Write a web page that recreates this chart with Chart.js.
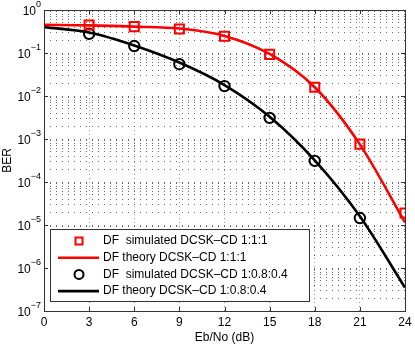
<!DOCTYPE html>
<html>
<head>
<meta charset="utf-8">
<script src="https://cdn.jsdelivr.net/npm/chart.js@4.4.1/dist/chart.umd.min.js"></script>
<style>
    html, body { margin: 0; padding: 0; background: #fff; }
    #wrap { width: 415px; height: 346px; }
</style>
</head>
<body>
<div id="wrap"><canvas id="ber"></canvas></div>
<script>
// x axis (Eb/No in dB)
const xTicks = [0, 3, 6, 9, 12, 15, 18, 21, 24];
const yDecades = [-7, -6, -5, -4, -3, -2, -1, 0];

// simulated points
const simX = [3, 6, 9, 12, 15, 18, 21, 24];
const simRed = [0.45, 0.41, 0.36, 0.245, 0.093, 0.016, 7.6e-4, 1.9e-5];
const simBlackX = [3, 6, 9, 12, 15, 18, 21];
const simBlack = [0.28, 0.145, 0.055, 0.017, 3.1e-3, 3.1e-4, 1.45e-5];

// theory curves
const theoryX = [0, 3, 6, 9, 12, 15, 18, 21, 24];
const theoryRed = [0.45, 0.44, 0.41, 0.37, 0.25, 0.095, 0.016, 7.5e-4, 1.15e-5];
const theoryBlack = [0.40, 0.30, 0.15, 0.06, 0.018, 3.3e-3, 3.2e-4, 1.6e-5, 3.5e-7];

const labels = [
    'DF  simulated DCSK\u2013CD 1:1:1',
    'DF theory DCSK\u2013CD 1:1:1',
    'DF  simulated DCSK\u2013CD 1:0.8:0.4',
    'DF theory DCSK\u2013CD 1:0.8:0.4'
];

const FONT = '12px "Liberation Sans", Arial, sans-serif';
const SUPFONT = '9px "Liberation Sans", Arial, sans-serif';

const pts = (xs, ys) => xs.map((x, i) => ({ x: x, y: ys[i] }));

// minor + major ticks for the log axis
const logTicks = [];
yDecades.forEach(e => {
    for (let k = 1; k <= 9; k++) {
        if (e === 0 && k > 1) break;
        logTicks.push({ value: k * Math.pow(10, e), major: k === 1 });
    }
});

const decorPlugin = {
    id: 'decor',
    afterDraw: (chart) => {
        const ctx = chart.ctx;
        const a = chart.chartArea;
        const xs = chart.scales.x;
        const ys = chart.scales.y;

        ctx.save();
        // frame
        ctx.strokeStyle = '#333';
        ctx.lineWidth = 1;
        ctx.strokeRect(Math.round(a.left) + 0.5, Math.round(a.top) + 0.5,
            Math.round(a.right - a.left), Math.round(a.bottom - a.top));

        // small inward tick marks
        ctx.beginPath();
        xTicks.forEach(v => {
            const px = Math.round(xs.getPixelForValue(v)) + 0.5;
            ctx.moveTo(px, a.bottom); ctx.lineTo(px, a.bottom - 4);
            ctx.moveTo(px, a.top); ctx.lineTo(px, a.top + 4);
        });
        yDecades.forEach(e => {
            const py = Math.round(ys.getPixelForValue(Math.pow(10, e))) + 0.5;
            ctx.moveTo(a.left, py); ctx.lineTo(a.left + 4, py);
            ctx.moveTo(a.right, py); ctx.lineTo(a.right - 4, py);
        });
        ctx.stroke();

        // x tick labels
        ctx.fillStyle = '#000';
        ctx.font = FONT;
        ctx.textAlign = 'center';
        ctx.textBaseline = 'middle';
        xTicks.forEach(v => {
            ctx.fillText(String(v), xs.getPixelForValue(v), a.bottom + 12);
        });
        ctx.fillText('Eb/No (dB)', (a.left + a.right) / 2, a.bottom + 27);

        // y tick labels 10^e
        yDecades.forEach(e => {
            const py = ys.getPixelForValue(Math.pow(10, e));
            const sup = e === 0 ? '0' : '\u2212' + (-e);
            ctx.font = SUPFONT;
            const sw = ctx.measureText(sup).width;
            const xr = a.left - 3;
            ctx.textAlign = 'left';
            ctx.fillText(sup, xr - sw, py - 5);
            ctx.font = FONT;
            ctx.textAlign = 'right';
            ctx.fillText('10', xr - sw, py + 2);
        });

        // y title
        ctx.save();
        ctx.translate(8, (a.top + a.bottom) / 2);
        ctx.rotate(-Math.PI / 2);
        ctx.textAlign = 'center';
        ctx.font = FONT;
        ctx.fillText('BER', 0, 0);
        ctx.restore();

        // legend box
        const lx = 50, ly = 229, lw = 259, lh = 72;
        ctx.fillStyle = '#fff';
        ctx.fillRect(lx, ly, lw, lh);
        ctx.strokeStyle = '#333';
        ctx.strokeRect(lx + 0.5, ly + 0.5, lw, lh);
        chart.data.datasets.forEach((ds, i) => {
            const cy = 241 + i * 16.7;
            if (ds.showLine === false) {
                ctx.strokeStyle = ds.borderColor;
                ctx.lineWidth = 2;
                ctx.beginPath();
                if (ds.pointStyle === 'rect') {
                    ctx.rect(79 - 3.5, cy - 3.5, 7, 7);
                } else {
                    ctx.arc(79, cy, 4.5, 0, Math.PI * 2);
                }
                ctx.stroke();
            } else {
                ctx.strokeStyle = ds.borderColor;
                ctx.lineWidth = ds.borderWidth;
                ctx.beginPath();
                ctx.moveTo(58, cy); ctx.lineTo(99, cy);
                ctx.stroke();
            }
            ctx.fillStyle = '#000';
            ctx.font = FONT;
            ctx.textAlign = 'left';
            ctx.textBaseline = 'middle';
            ctx.fillText(ds.label, 103, cy);
        });
        ctx.restore();
    }
};

new Chart(document.getElementById('ber'), {
    type: 'scatter',
    data: {
        datasets: [
            {
                label: labels[0], data: pts(simX, simRed), showLine: false,
                borderColor: '#ff0000', backgroundColor: 'rgba(0,0,0,0)',
                pointStyle: 'rect', pointRadius: 6.4, borderWidth: 2, order: 1
            },
            {
                label: labels[1], data: pts(theoryX, theoryRed), showLine: true,
                borderColor: '#ff0000', borderWidth: 2.6, pointRadius: 0,
                cubicInterpolationMode: 'monotone', order: 2
            },
            {
                label: labels[2], data: pts(simBlackX, simBlack), showLine: false,
                borderColor: '#000', backgroundColor: 'rgba(0,0,0,0)',
                pointStyle: 'circle', pointRadius: 5.2, borderWidth: 2, order: 1
            },
            {
                label: labels[3], data: pts(theoryX, theoryBlack), showLine: true,
                borderColor: '#000', borderWidth: 2.6, pointRadius: 0,
                cubicInterpolationMode: 'monotone', order: 2
            }
        ]
    },
    options: {
        responsive: true,
        maintainAspectRatio: false,
        animation: false,
        events: [],
        layout: { padding: { left: 44, top: 10, right: 10, bottom: 35 } },
        plugins: { legend: { display: false }, tooltip: { enabled: false } },
        scales: {
            x: {
                type: 'linear', min: 0, max: 24,
                afterBuildTicks: (s) => { s.ticks = xTicks.map(v => ({ value: v })); },
                ticks: { display: false },
                grid: { color: '#9a9a9a', lineWidth: 1, drawTicks: false },
                border: { display: false, dash: [1, 3] }
            },
            y: {
                type: 'logarithmic', min: 1e-7, max: 1,
                afterBuildTicks: (s) => { s.ticks = logTicks.map(t => ({ value: t.value, major: t.major })); },
                ticks: { display: false },
                grid: { color: '#6a6a6a', lineWidth: 1, drawTicks: false },
                border: { display: false, dash: [1, 5] }
            }
        }
    },
    plugins: [decorPlugin]
});
</script>
</body>
</html>
